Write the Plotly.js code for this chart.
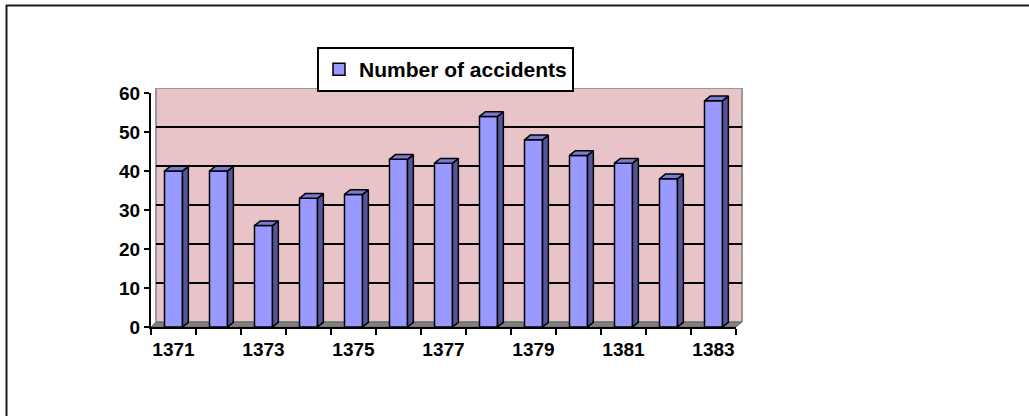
<!DOCTYPE html>
<html>
<head>
<meta charset="utf-8">
<script src="https://cdn.plot.ly/plotly-3.0.1.min.js"></script>
<style>
  html, body { margin: 0; padding: 0; background: #ffffff; }
  #chart { width: 1029px; height: 416px; }
</style>
</head>
<body>
<div id="chart"></div>
<script>
// ---- data ----
const years = [1371, 1372, 1373, 1374, 1375, 1376, 1377, 1378, 1379, 1380, 1381, 1382, 1383];
const accidents = [40, 40, 26, 33, 34, 43, 42, 54, 48, 44, 42, 38, 58];
const seriesName = "Number of accidents";
const labelYears = [1371, 1373, 1375, 1377, 1379, 1381, 1383];
const yTicks = [0, 10, 20, 30, 40, 50, 60];

// ---- geometry helpers ----
const W = 1029, H = 416;
const px = v => v / W;          // pixel x -> paper
const py = v => 1 - v / H;      // pixel y -> paper

const idx = years.map((_, i) => i);
const barW = 0.4;   // bar width in category units
const dx = 0.13;    // 3D depth, x (category units)
const dy = 1.2;     // 3D depth, y (value units)

// side faces and top faces as filled polygons (computed from the data)
const sideX = [], sideY = [], topX = [], topY = [];
idx.forEach((i) => {
  const v = accidents[i];
  const l = i - barW / 2, r = i + barW / 2;
  sideX.push(r, r + dx, r + dx, r, r, null);
  sideY.push(0, dy, v + dy, v, 0, null);
  topX.push(l, l + dx, r + dx, r, l, null);
  topY.push(v, v + dy, v + dy, v, v, null);
});

const fam = "Liberation Sans, Arial, sans-serif";
const font = { family: fam, color: "#000000", size: 19, weight: 700 };

const traces = [
  // empty trace to create the back-wall subplot
  { type: "scatter", x: [], y: [], xaxis: "x", yaxis: "y", showlegend: false, hoverinfo: "skip" },
  // empty trace so the label axis is drawn
  { type: "scatter", x: [], y: [], xaxis: "x3", yaxis: "y2", showlegend: false, hoverinfo: "skip" },
  {
    type: "bar", name: seriesName, x: idx, y: accidents, xaxis: "x2", yaxis: "y2",
    width: barW, marker: { color: "#9999FF", line: { color: "#000000", width: 1.5 } },
    hoverinfo: "skip"
  },
  {
    type: "scatter", mode: "lines", x: sideX, y: sideY, xaxis: "x2", yaxis: "y2",
    fill: "toself", fillcolor: "#55559A", line: { color: "#000000", width: 1.5 },
    showlegend: false, hoverinfo: "skip"
  },
  {
    type: "scatter", mode: "lines", x: topX, y: topY, xaxis: "x2", yaxis: "y2",
    fill: "toself", fillcolor: "#7A7AD2", line: { color: "#000000", width: 1.5 },
    showlegend: false, hoverinfo: "skip"
  }
];

const frontX = [px(151), px(736)];
const frontY = [py(327), py(93)];
const backX = [px(156), px(742)];
const backY = [py(322), py(88)];

const layout = {
  width: W, height: H,
  margin: { l: 0, r: 0, t: 0, b: 0 },
  paper_bgcolor: "#ffffff",
  plot_bgcolor: "rgba(0,0,0,0)",
  font: font,
  showlegend: true,
  legend: {
    x: px(317), y: py(47), xanchor: "left", yanchor: "top",
    bgcolor: "#ffffff", bordercolor: "#000000", borderwidth: 2,
    font: { family: fam, size: 21, weight: 700, color: "#000000" },
    itemwidth: 30
  },
  // back wall (grid) subplot
  xaxis: { domain: backX, range: [0, 1], visible: false, fixedrange: true },
  yaxis: {
    domain: backY, range: [0, 60], anchor: "x",
    tickvals: [10, 20, 30, 40, 50], showticklabels: false, ticks: "",
    showgrid: true, gridcolor: "#000000", gridwidth: 2, zeroline: false,
    showline: false, fixedrange: true
  },
  // front plane
  xaxis2: {
    domain: frontX, range: [-0.5, years.length - 0.5], anchor: "y2",
    tickvals: idx.map(i => i - 0.5).concat([years.length - 0.5]),
    ticktext: idx.map(() => "").concat([""]),
    ticks: "outside", ticklen: 6, tickwidth: 2, tickcolor: "#000000",
    showline: true, linecolor: "#000000", linewidth: 2,
    showgrid: false, zeroline: false, fixedrange: true
  },
  xaxis3: {
    overlaying: "x2", domain: frontX, range: [-0.5, years.length - 0.5], anchor: "y2",
    side: "bottom",
    tickvals: labelYears.map(y => years.indexOf(y)),
    ticktext: labelYears.map(String),
    ticks: "", ticklabelstandoff: 9,
    tickfont: { family: fam, size: 19, weight: 700, color: "#000000" },
    showline: false, showgrid: false, zeroline: false, fixedrange: true
  },
  yaxis2: {
    domain: frontY, range: [0, 60], anchor: "x2",
    tickvals: yTicks, ticktext: yTicks.map(String),
    ticks: "outside", ticklen: 5, tickwidth: 2, tickcolor: "#000000",
    tickfont: { family: fam, size: 19, weight: 700, color: "#000000" },
    showline: true, linecolor: "#000000", linewidth: 2,
    showgrid: false, zeroline: false, fixedrange: true
  },
  shapes: [
    // back wall
    {
      type: "rect", layer: "below", xref: "x domain", yref: "y",
      x0: 0, x1: 1, y0: 0, y1: 60,
      fillcolor: "#E8C3C7", line: { color: "#999999", width: 2 }
    },
    // floor
    {
      type: "path", layer: "below", xref: "paper", yref: "paper",
      path: `M ${px(151)},${py(327)} L ${px(736)},${py(327)} L ${px(742)},${py(322)} L ${px(156)},${py(322)} Z`,
      fillcolor: "#808080", line: { color: "#666666", width: 1 }
    },
    // outer frame (top and left edges)
    {
      type: "line", layer: "above", xref: "paper", yref: "paper",
      x0: px(6), x1: px(1029), y0: py(5.5), y1: py(5.5),
      line: { color: "#1a1a1a", width: 2 }
    },
    {
      type: "line", layer: "above", xref: "paper", yref: "paper",
      x0: px(6.5), x1: px(6.5), y0: py(5), y1: py(416),
      line: { color: "#1a1a1a", width: 2 }
    }
  ]
};

Plotly.newPlot("chart", traces, layout, { staticPlot: true, displayModeBar: false });
</script>
</body>
</html>
